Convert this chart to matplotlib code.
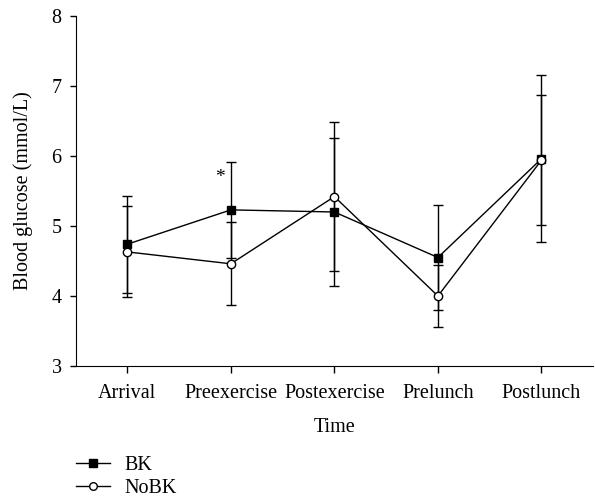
import matplotlib.pyplot as plt
from matplotlib.lines import Line2D
import numpy as np

plt.rcParams['font.family'] = ['Liberation Serif', 'DejaVu Serif']

# data
times = ['Arrival', 'Preexercise', 'Postexercise', 'Prelunch', 'Postlunch']
bk_mean = [4.74, 5.23, 5.20, 4.55, 5.96]
bk_sd = [0.69, 0.68, 1.06, 0.75, 1.19]
nobk_mean = [4.63, 4.46, 5.42, 4.00, 5.94]
nobk_sd = [0.65, 0.59, 1.06, 0.44, 0.93]

x = np.arange(len(times))
fs = 14.5

fig = plt.figure(figsize=(5.95, 4.98), dpi=100)
ax = fig.add_axes([0.127, 0.265, 0.87, 0.703])

ax.errorbar(x, bk_mean, yerr=bk_sd, color='black', lw=1, marker='s', ms=6,
            mfc='black', mec='black', capsize=3.5, elinewidth=1, capthick=1,
            zorder=3)
ax.errorbar(x, nobk_mean, yerr=nobk_sd, color='black', lw=1, marker='o', ms=6,
            mfc='white', mec='black', mew=1, capsize=3.5, elinewidth=1, capthick=1,
            zorder=4)

# significance marker
ax.text(x[1] - 0.11, 5.69, '*', ha='center', va='center', fontsize=14)

ax.set_xlim(-0.5, 4.5)
ax.set_ylim(3, 8)
ax.set_yticks([3, 4, 5, 6, 7, 8])
ax.set_xticks(x)
ax.set_xticklabels(times)
ax.set_xlabel('Time', fontsize=fs, labelpad=11)
ax.set_ylabel('Blood glucose (mmol/L)', fontsize=fs, labelpad=13)
ax.tick_params(axis='y', labelsize=fs, direction='out', length=4, width=1, pad=6)
ax.tick_params(axis='x', labelsize=fs, direction='out', length=5, width=1, pad=8)
ax.spines['top'].set_visible(False)
ax.spines['right'].set_visible(False)

handles = [Line2D([], [], color='black', lw=1, marker='s', ms=6, mfc='black'),
           Line2D([], [], color='black', lw=1, marker='o', ms=5.5, mfc='white')]
fig.legend(handles, ['BK', 'NoBK'], loc='lower left', bbox_to_anchor=(0.097, -0.036),
           frameon=False, fontsize=fs, handlelength=1.7, labelspacing=0.2,
           handletextpad=0.7)

fig.savefig('out.png', dpi=100)
